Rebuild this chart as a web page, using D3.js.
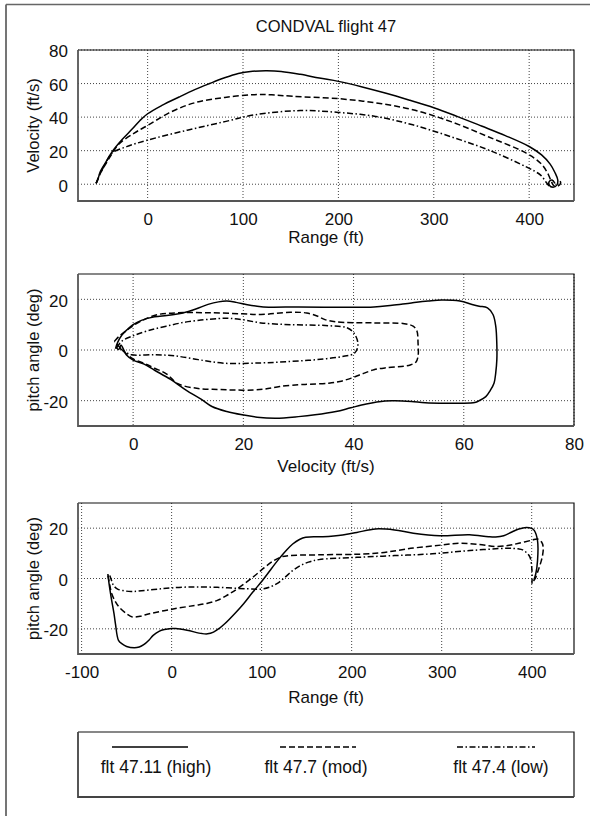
<!DOCTYPE html>
<html><head><meta charset="utf-8">
<script src="https://cdn.jsdelivr.net/npm/d3@7"></script>
<style>
body{margin:0;background:#fff}
svg{display:block}
text{font-family:"Liberation Sans",Arial,Helvetica,sans-serif;fill:#111}
</style>
</head><body><svg id="c" width="590" height="816"></svg>
<script>
// ---------------- data ----------------
const title = "CONDVAL flight 47";
const seriesNames = ["flt 47.11 (high)", "flt 47.7 (mod)", "flt 47.4 (low)"];

// Panel 1: Velocity (ft/s) vs Range (ft)
const rangeTicksTop = [0, 100, 200, 300, 400];
const velTicks = [0, 20, 40, 60, 80];
const velRangeHigh = [[-54,0.5],[-52,3],[-50,7],[-44,13],[-37,19.5],[-27,26.5],[-16,33],[-8,38],[0,42],[15,47],[33,52],[50,56.5],[65,60],[80,63.3],[95,66],[110,67.3],[125,67.6],[140,67.2],[160,65.5],[180,63.3],[200,61.3],[225,58],[250,54.2],[275,50],[300,45.6],[325,40.3],[350,34.7],[375,29],[400,22.5],[413,17.5],[422,12],[427,7],[430,2.5],[429,-0.5],[425,-1.8],[421,-0.5],[421,1.5],[424,2.5],[427,0.5]];
const velRangeMod = [[-54,0.5],[-50,6],[-44,12],[-37,18.5],[-30,24],[-14,30.5],[0,35],[22,42.4],[49,48.5],[81,51.7],[112,53.4],[130,53.3],[152,52.4],[200,51],[239,48.5],[278,44.4],[318,37.3],[357,28.3],[397,18.5],[412,12.5],[419,7],[423,2],[426,-1],[430,-1.2],[433,0.8],[431,3]];
const velRangeLow = [[-54,0.5],[-50,6],[-44,12.5],[-37.5,18.5],[-22,22.4],[0,26.3],[41.5,32.2],[81,37.3],[112.5,41.4],[160,43.9],[200,42.8],[239,40.4],[278,35.4],[318,28.3],[357,20.5],[397,10.3],[412,5.4],[418,1],[421,-1],[424,-1.5]];

// Panel 2: pitch angle (deg) vs Velocity (ft/s)
const velTicksMid = [0, 20, 40, 60, 80];
const pitchTicks = [-20, 0, 20];
const pitchVelHigh = [[-3.2,0.5],[-2.8,3],[-2,6],[-1,8.2],[0,10],[1.5,11.7],[3.9,13.1],[6.1,13.6],[8,14.2],[9.5,14.9],[11.5,16.3],[13.6,18],[15.5,19],[17,19.3],[18.7,18.8],[20.5,18],[22.5,17.3],[24.6,16.9],[30,17],[36.8,16.9],[43.7,17],[47,17.7],[50.5,18.6],[53.5,19.3],[56,19.7],[59.3,19.3],[61.5,18],[62.8,17.3],[64.3,16.6],[65.3,14],[65.8,9.4],[66,2],[66,-3.8],[65.8,-9],[65.5,-13],[64.8,-16],[64,-18.4],[62.8,-20],[62,-20.7],[59.5,-21],[57.3,-21],[53,-20.8],[50.5,-20.3],[47.5,-20],[45.7,-20.1],[42.3,-21.3],[39.5,-22.8],[36.8,-24.3],[33,-25.6],[30,-26.3],[25.9,-26.9],[22.5,-26.5],[19.8,-25.6],[17,-24.3],[14.3,-22.3],[12.4,-19.5],[9.6,-15.8],[6.8,-11.6],[3.9,-8],[2,-5.6],[0,-4],[-1.2,-2],[-1.8,0.5],[-2.2,2],[-2.6,0.2],[-3.1,1.2]];
const pitchVelMod = [[-3.4,3.4],[-2.5,5.5],[-1,8],[0,9.6],[2,12],[4.5,14],[8.2,14.7],[13.6,14.7],[19.8,14.3],[23.2,14],[28.6,14.9],[31.5,14.6],[33.5,13.3],[34.8,12],[36.8,11.1],[43.7,10.7],[49.2,10.4],[50.8,9.4],[51.5,7.5],[51.7,2.8],[51.7,-2.5],[51.3,-4.8],[50.3,-5.9],[49.1,-6.4],[46,-7],[43.7,-7.8],[41.5,-9.5],[39.6,-11.1],[37.5,-12.4],[35.5,-13.1],[32,-13.5],[30,-13.7],[26.6,-14.4],[24,-15.4],[21.8,-15.8],[18.5,-15.8],[15.4,-15.6],[11.8,-15.2],[8.1,-13.3],[6.1,-9.5],[3.9,-7.2],[2,-5.3],[0,-3.5],[-1.4,-1.2],[-2.6,1.5],[-3.4,3.4]];
const pitchVelLow = [[-3,0.8],[-2.1,3.4],[0,5.6],[2.7,7.6],[6,9.4],[10,11.2],[15.4,12.4],[17.5,12.5],[19.8,12],[23.2,10.7],[28.6,10],[35.5,9.6],[38.9,8.7],[40.2,6.3],[40.8,2.1],[40.2,-1.2],[38.2,-2.5],[33.4,-3.8],[28.6,-4.5],[23.2,-5.1],[16.4,-5.2],[11.8,-3.8],[7.5,-2.3],[3.9,-1.9],[-0.3,-1.9],[-1.4,-0.8],[-2.4,0.6]];

// Panel 3: pitch angle (deg) vs Range (ft)
const rangeTicksBot = [-100, 0, 100, 200, 300, 400];
const pitchRangeHigh = [[-70.8,1.8],[-69.5,-2],[-66.6,-8.7],[-64,-14],[-62.4,-18],[-59,-24.6],[-55,-26],[-50,-27],[-41.5,-27.5],[-36,-27.2],[-31,-26.3],[-25,-24.4],[-20.5,-22.6],[-14,-21],[-8,-20.3],[0,-19.9],[4.6,-19.9],[17.2,-20.6],[33.9,-21.9],[40,-22],[46.5,-21.3],[53,-19.8],[59,-18],[70,-14],[80,-10],[90,-5.5],[100.9,-0.8],[110,3.5],[117.7,7.1],[127,11],[134.5,13.7],[142,15.5],[149,16.4],[168,16.6],[190,17.3],[205.7,18.3],[226.6,19.7],[247.6,19.3],[268.5,18],[297.8,17],[331,17.4],[352,16.6],[360,16.5],[368.9,17],[378,18.5],[385.7,19.7],[394,20.3],[400,19.9],[403,19],[406.5,15],[406.5,7.1],[404.5,1.8],[402.5,-0.5]];
const pitchRangeMod = [[-70.8,1.2],[-69,-2],[-66.6,-6],[-62,-9.5],[-58.2,-11.4],[-50,-14],[-43.6,-15.3],[-35,-15],[-24.7,-14],[0.4,-12.2],[25.5,-10.7],[40,-9.8],[50.7,-8.7],[60,-7],[67.4,-5.4],[80,-2.3],[92.6,1.2],[103,4.3],[113.5,7.1],[122,8.6],[130.2,9.1],[163.7,9.4],[226.6,10],[268.5,12.1],[300,13.3],[320,14],[340,13.6],[360.7,12.7],[375,13.2],[385.7,14],[400,15.2],[406.5,15.7],[411,14.5],[412.8,12.4],[412,9],[410.7,7.1],[408,4],[406.5,2.5],[404,0],[402,-1]];
const pitchRangeLow = [[-68.7,1.2],[-66.5,-1],[-64.5,-2.8],[-60,-4.2],[-54,-4.8],[-45,-5.2],[-37.3,-5],[-12.1,-4.1],[17.2,-3.4],[50.7,-3.5],[84.2,-4.1],[100,-4.2],[109.3,-3.4],[118,-1.8],[126,0.5],[134,3],[142.8,5.1],[152,6.5],[163.7,7.5],[205.7,8.4],[247.6,9.1],[289.5,9.8],[331.4,11.1],[373.2,12],[385,11.8],[390,11.4],[395,10],[398.2,8.4],[400.3,3.2],[400.3,-2.1]];

// ---------------- drawing ----------------
const svg = d3.select("#c");
const dashStyles = [null, "6,3", "6,2.5,1.5,2.5"];
const L = 78, R = 574;
const FONT = '"Liberation Sans",Arial,sans-serif';

// outer frame (top and left edges)
svg.append("line").attr("x1",6).attr("y1",4.5).attr("x2",590).attr("y2",4.5).attr("stroke","#666").attr("stroke-width",1.5);
svg.append("line").attr("x1",6).attr("y1",4.5).attr("x2",6).attr("y2",816).attr("stroke","#666").attr("stroke-width",1.8);

svg.append("text").attr("x",(L+R)/2).attr("y",32).attr("text-anchor","middle").attr("font-size",16.5).text(title);

function panel(cfg, idx){
  const x = d3.scaleLinear().domain(cfg.xDomain).range([L, R]);
  const y = d3.scaleLinear().domain(cfg.yDomain).range([cfg.bottom, cfg.top]);
  const g = svg.append("g");
  const clipId = "clip"+idx;
  svg.append("clipPath").attr("id",clipId).append("rect")
    .attr("x",L).attr("y",cfg.top).attr("width",R-L).attr("height",cfg.bottom-cfg.top);
  // grid
  g.selectAll(".vg").data(cfg.xTicks).join("line")
    .attr("x1",d=>x(d)).attr("x2",d=>x(d)).attr("y1",cfg.top).attr("y2",cfg.bottom)
    .attr("stroke","#444").attr("stroke-width",1).attr("stroke-dasharray","1,2");
  g.selectAll(".hg").data(cfg.yTicks).join("line")
    .attr("x1",L).attr("x2",R).attr("y1",d=>y(d)).attr("y2",d=>y(d))
    .attr("stroke","#444").attr("stroke-width",1).attr("stroke-dasharray","1,2");
  // axes (labels only)
  const fmt = d => String(d);
  const ax = g.append("g").attr("transform",`translate(0,${cfg.bottom})`)
    .call(d3.axisBottom(x).tickValues(cfg.xTicks).tickSize(0).tickPadding(12).tickFormat(fmt));
  const ay = g.append("g").attr("transform",`translate(${L},0)`)
    .call(d3.axisLeft(y).tickValues(cfg.yTicks).tickSize(0).tickPadding(10).tickFormat(fmt));
  [ax, ay].forEach(a=>{
    a.select(".domain").remove();
    a.selectAll("text").attr("font-size",17).attr("font-family",FONT).attr("fill","#111");
  });
  ay.selectAll("text").attr("dy","0.4em");
  // lines
  const line = d3.line().x(d=>x(d[0])).y(d=>y(d[1])).curve(d3.curveCatmullRom.alpha(0.5));
  cfg.series.forEach((s,i)=>{
    g.append("path").attr("d",line(s)).attr("fill","none").attr("stroke","#000")
      .attr("stroke-width",1.5).attr("stroke-dasharray",dashStyles[i]).attr("clip-path",`url(#${clipId})`);
  });
  // box: thin dark top/right, heavier grey left/bottom
  g.append("path").attr("d",`M${L},${cfg.top}H${R}V${cfg.bottom}`).attr("fill","none").attr("stroke","#111").attr("stroke-width",1.2);
  g.append("path").attr("d",`M${L},${cfg.top}V${cfg.bottom}H${R}`).attr("fill","none").attr("stroke","#555").attr("stroke-width",1.8);
  // axis titles
  g.append("text").attr("x",(L+R)/2).attr("y",cfg.xLabelY).attr("text-anchor","middle").attr("font-size",17).text(cfg.xLabel);
  g.append("text").attr("transform",`translate(33,${(cfg.top+cfg.bottom)/2}) rotate(-90)`)
    .attr("text-anchor","middle").attr("dominant-baseline","central").attr("font-size",16.5).text(cfg.yLabel);
}

panel({top:50,bottom:201,xDomain:[-73,447],yDomain:[-10,80],xTicks:rangeTicksTop,yTicks:velTicks,
  xLabel:"Range (ft)",yLabel:"Velocity (ft/s)",xLabelY:243,series:[velRangeHigh,velRangeMod,velRangeLow]},0);
panel({top:274,bottom:426,xDomain:[-10,80],yDomain:[-30,30],xTicks:velTicksMid,yTicks:pitchTicks,
  xLabel:"Velocity (ft/s)",yLabel:"pitch angle (deg)",xLabelY:472,series:[pitchVelHigh,pitchVelMod,pitchVelLow]},1);
panel({top:503,bottom:654,xDomain:[-104,447],yDomain:[-30,30],xTicks:rangeTicksBot,yTicks:pitchTicks,
  xLabel:"Range (ft)",yLabel:"pitch angle (deg)",xLabelY:703,series:[pitchRangeHigh,pitchRangeMod,pitchRangeLow]},2);

// legend
const lg = svg.append("g");
lg.append("path").attr("d",`M${L},732H${R}V797`).attr("fill","none").attr("stroke","#111").attr("stroke-width",1.2);
lg.append("path").attr("d",`M${L},732V797H${R}`).attr("fill","none").attr("stroke","#444").attr("stroke-width",1.8);
const legX = [[112,188,156],[280,356,316],[457,535,501]];
seriesNames.forEach((n,i)=>{
  lg.append("line").attr("x1",legX[i][0]).attr("x2",legX[i][1]).attr("y1",747).attr("y2",747)
    .attr("stroke","#000").attr("stroke-width",1.5).attr("stroke-dasharray",dashStyles[i]);
  lg.append("text").attr("x",legX[i][2]).attr("y",773).attr("text-anchor","middle").attr("font-size",17.5).text(n);
});
</script></body></html>
